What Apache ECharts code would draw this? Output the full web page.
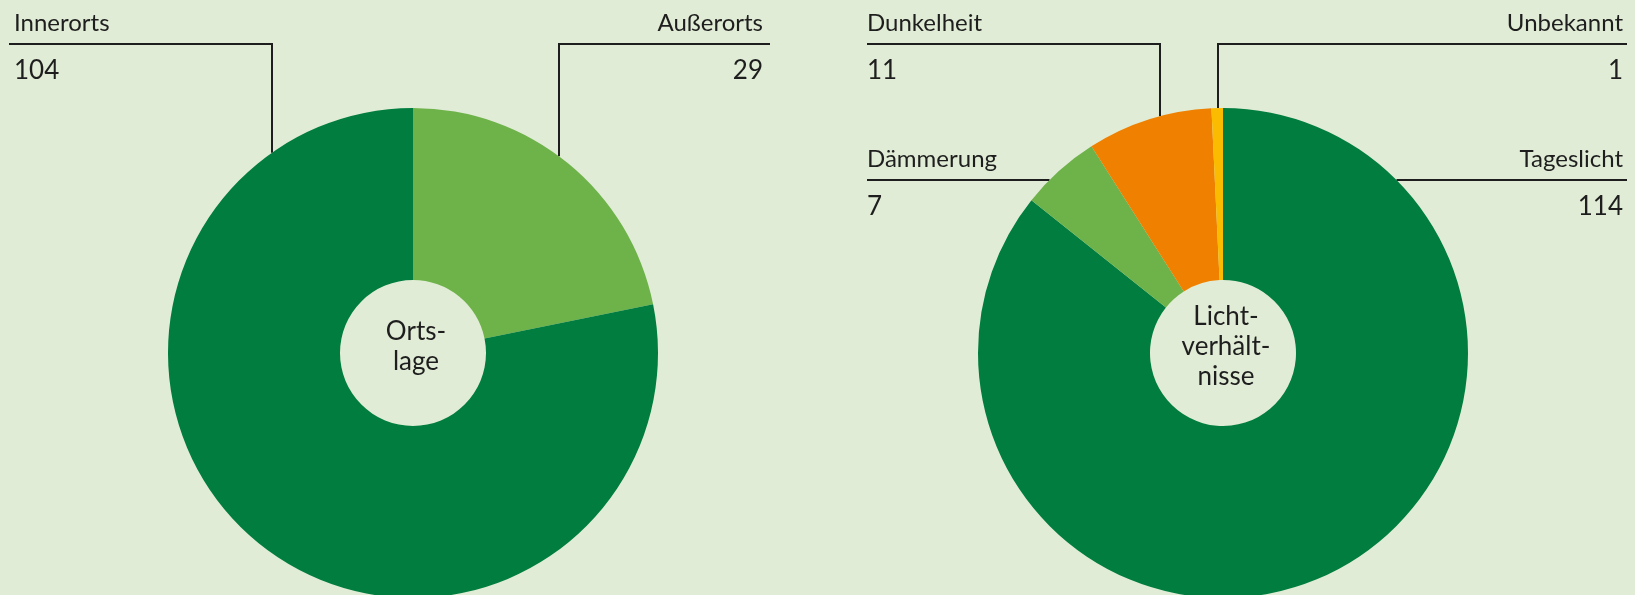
<!DOCTYPE html>
<html>
<head>
<meta charset="utf-8">
<script src="https://cdn.jsdelivr.net/npm/echarts@6/dist/echarts.min.js"></script>
<style>
html,body{margin:0;padding:0;background:#e0ecd5;}
#chart{width:1635px;height:595px;}
</style>
</head>
<body>
<div id="chart"></div>
<script>
// ---- data ----
const ortsCategories = ['Außerorts', 'Innerorts'];
const ortsValues = [29, 104];
const ortsTitle = 'Orts-\nlage';

const lichtCategories = ['Tageslicht', 'Dämmerung', 'Dunkelheit', 'Unbekannt'];
const lichtValues = [114, 7, 11, 1];
const lichtTitle = 'Licht-\nverhält-\nnisse';

// ---- styles / layout ----
const BG = '#e0ecd5';
const TEXT = '#1e1e1e';
const FONT = 'Lato';
const ortsColors = ['#6eb24a', '#007d3f'];
const lichtColors = ['#007d3f', '#6eb24a', '#ef8000', '#fbbb00'];
const R_IN = 73, R_OUT = 245;
const ortsCenter = [413, 353];
const lichtCenter = [1223, 353];

const ortsLabelLayout = [
  { side: 'right', textX: 763, lineY: 44, lineEnd: 770, vx: 559 },
  { side: 'left', textX: 14, lineY: 44, lineEnd: 9, vx: 272 }
];
const lichtLabelLayout = [
  { side: 'right', textX: 1623, lineY: 180, lineEnd: 1627 },
  { side: 'left', textX: 867, lineY: 180, lineEnd: 867 },
  { side: 'left', textX: 867, lineY: 44, lineEnd: 867, vx: 1160 },
  { side: 'right', textX: 1623, lineY: 44, lineEnd: 1627, vx: 1218 }
];

function makeLayout(layouts, center) {
  return function (params) {
    const L = layouts[params.dataIndex];
    const cx = center[0], cy = center[1];
    let pts;
    if (L.vx !== undefined) {
      const ey = cy - Math.sqrt(R_OUT * R_OUT - (L.vx - cx) * (L.vx - cx));
      pts = [[L.vx, ey], [L.vx, L.lineY], [L.lineEnd, L.lineY]];
    } else {
      const d = Math.sqrt(R_OUT * R_OUT - (cy - L.lineY) * (cy - L.lineY));
      const ex = L.side === 'left' ? cx - d : cx + d;
      pts = [[ex, L.lineY], [(ex + L.lineEnd) / 2, L.lineY], [L.lineEnd, L.lineY]];
    }
    return {
      x: L.textX,
      y: L.lineY + 3,
      align: L.side,
      verticalAlign: 'middle',
      labelLinePoints: pts
    };
  };
}

function pieSeries(cats, vals, colors, center, layouts) {
  return {
    type: 'pie',
    center: center,
    radius: [R_IN, R_OUT],
    startAngle: 90,
    clockwise: true,
    avoidLabelOverlap: false,
    silent: true,
    emphasis: { disabled: true },
    itemStyle: { borderWidth: 0 },
    label: {
      show: true,
      position: 'outside',
      formatter: '{n|{b}}\n{v|{c}}',
      rich: {
        n: { fontFamily: FONT, fontSize: 24, lineHeight: 48, color: TEXT },
        v: { fontFamily: FONT, fontSize: 26, lineHeight: 48, color: TEXT }
      }
    },
    labelLine: { show: true, lineStyle: { color: TEXT, width: 2 } },
    labelLayout: makeLayout(layouts, center),
    data: cats.map((c, i) => ({ name: c, value: vals[i], itemStyle: { color: colors[i] } }))
  };
}

const chart = echarts.init(document.getElementById('chart'));
chart.setOption({
  backgroundColor: BG,
  animation: false,
  series: [
    pieSeries(ortsCategories, ortsValues, ortsColors, ortsCenter, ortsLabelLayout),
    pieSeries(lichtCategories, lichtValues, lichtColors, lichtCenter, lichtLabelLayout)
  ],
  graphic: [
    { type: 'text', x: ortsCenter[0] + 3, y: 347, silent: true,
      style: { text: ortsTitle, align: 'center', verticalAlign: 'middle', fontFamily: FONT, fontSize: 26, lineHeight: 30, fill: TEXT } },
    { type: 'text', x: lichtCenter[0] + 3, y: 347, silent: true,
      style: { text: lichtTitle, align: 'center', verticalAlign: 'middle', fontFamily: FONT, fontSize: 26, lineHeight: 30, fill: TEXT } }
  ]
});
</script>
</body>
</html>
